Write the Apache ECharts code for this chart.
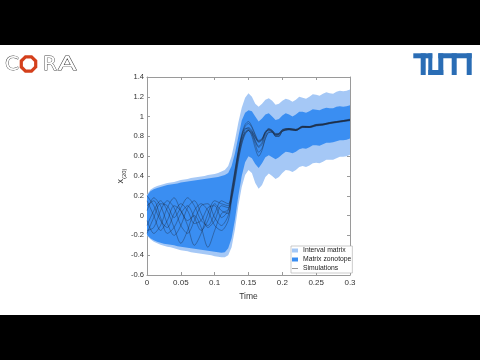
<!DOCTYPE html>
<html>
<head>
<meta charset="utf-8">
<style>
  html, body { margin: 0; padding: 0; background: #fff; }
  #main { width: 480px; height: 360px; }
</style>
<script src="https://cdn.jsdelivr.net/npm/echarts@6/dist/echarts.min.js"></script>
</head>
<body>
<div id="main"></div>
<script>
// reach-set bounds, sampled every 0.005 s
const bandT = [0, 0.005, 0.01, 0.015, 0.02, 0.025, 0.03, 0.035, 0.04, 0.045,
  0.05, 0.055, 0.06, 0.065, 0.07, 0.075, 0.08, 0.085, 0.09, 0.095,
  0.1, 0.105, 0.11, 0.115, 0.12, 0.125, 0.13, 0.135, 0.14, 0.145,
  0.15, 0.155, 0.16, 0.165, 0.17, 0.175, 0.18, 0.185, 0.19, 0.195,
  0.2, 0.205, 0.21, 0.215, 0.22, 0.225, 0.23, 0.235, 0.24, 0.245,
  0.25, 0.255, 0.26, 0.265, 0.27, 0.275, 0.28, 0.285, 0.29, 0.295, 0.3];

const intervalHigh = [0.21, 0.26, 0.285, 0.30, 0.31, 0.32, 0.33, 0.335, 0.34, 0.35,
  0.36, 0.365, 0.37, 0.38, 0.385, 0.39, 0.395, 0.40, 0.41, 0.415,
  0.42, 0.43, 0.445, 0.46, 0.50, 0.60, 0.76, 0.94, 1.09, 1.19,
  1.235, 1.20, 1.13, 1.10, 1.13, 1.17, 1.185, 1.16, 1.12, 1.13,
  1.16, 1.18, 1.17, 1.15, 1.17, 1.20, 1.19, 1.18, 1.20, 1.225,
  1.22, 1.21, 1.23, 1.245, 1.235, 1.23, 1.25, 1.26, 1.255, 1.26, 1.275];

const intervalLow = [-0.20, -0.24, -0.265, -0.28, -0.295, -0.305, -0.315, -0.32, -0.33, -0.34,
  -0.35, -0.355, -0.36, -0.37, -0.375, -0.38, -0.385, -0.39, -0.395, -0.40,
  -0.41, -0.415, -0.42, -0.42, -0.40, -0.32, -0.14, 0.10, 0.29, 0.41,
  0.46, 0.43, 0.33, 0.27, 0.31, 0.39, 0.425, 0.40, 0.37, 0.39,
  0.43, 0.46, 0.455, 0.44, 0.46, 0.49, 0.50, 0.49, 0.505, 0.53,
  0.535, 0.53, 0.545, 0.565, 0.565, 0.565, 0.58, 0.595, 0.595, 0.60, 0.615];

const zonoHigh = [0.20, 0.245, 0.265, 0.28, 0.29, 0.30, 0.31, 0.315, 0.32, 0.325,
  0.335, 0.34, 0.345, 0.35, 0.355, 0.36, 0.365, 0.37, 0.375, 0.38,
  0.385, 0.39, 0.40, 0.41, 0.43, 0.50, 0.63, 0.80, 0.96, 1.04,
  1.065, 1.055, 1.00, 0.95, 0.98, 1.02, 1.035, 1.00, 0.965, 0.975,
  1.01, 1.035, 1.02, 1.00, 1.02, 1.05, 1.05, 1.04, 1.055, 1.075,
  1.07, 1.065, 1.08, 1.09, 1.085, 1.085, 1.10, 1.105, 1.10, 1.105, 1.115];

const zonoLow = [-0.195, -0.23, -0.25, -0.265, -0.275, -0.285, -0.29, -0.295, -0.30, -0.31,
  -0.315, -0.32, -0.325, -0.33, -0.335, -0.34, -0.345, -0.35, -0.355, -0.36,
  -0.365, -0.37, -0.375, -0.37, -0.33, -0.23, -0.04, 0.20, 0.40, 0.54,
  0.60, 0.58, 0.52, 0.48, 0.53, 0.59, 0.61, 0.59, 0.57, 0.59,
  0.62, 0.645, 0.64, 0.63, 0.645, 0.67, 0.68, 0.675, 0.69, 0.71,
  0.71, 0.705, 0.72, 0.735, 0.735, 0.74, 0.75, 0.76, 0.76, 0.765, 0.78];

// simulation runs
const simT = [0, 0.01, 0.02, 0.03, 0.04, 0.05, 0.06, 0.07, 0.08, 0.09, 0.1, 0.11, 0.12,
  0.125, 0.13, 0.135, 0.14, 0.145, 0.15, 0.155, 0.16, 0.165, 0.17, 0.175, 0.18,
  0.185, 0.19, 0.195, 0.2, 0.21, 0.22, 0.23, 0.24, 0.25, 0.26, 0.27, 0.28, 0.29, 0.3];

const sim1 = [0.20, 0.10, -0.05, -0.12, 0.02, 0.12, 0.05, -0.08, -0.05, 0.08, 0.10, -0.02, 0.05,
  0.25, 0.45, 0.65, 0.82, 0.92, 0.95, 0.90, 0.82, 0.76, 0.78, 0.85, 0.88, 0.86, 0.83, 0.83, 0.87,
  0.88, 0.87, 0.905, 0.90, 0.92, 0.925, 0.94, 0.95, 0.96, 0.97];
const sim2 = [-0.15, -0.12, 0.05, 0.15, 0.08, -0.10, -0.18, -0.05, 0.10, 0.12, -0.02, -0.10, 0.00,
  0.18, 0.38, 0.60, 0.76, 0.85, 0.87, 0.84, 0.76, 0.70, 0.74, 0.83, 0.87, 0.86, 0.82, 0.82, 0.86,
  0.875, 0.865, 0.90, 0.895, 0.915, 0.92, 0.935, 0.945, 0.955, 0.965];
const sim3 = [0.05, 0.18, 0.10, -0.08, -0.20, -0.10, 0.08, 0.15, 0.02, -0.12, -0.05, 0.10, 0.08,
  0.22, 0.44, 0.64, 0.79, 0.87, 0.89, 0.86, 0.79, 0.74, 0.76, 0.84, 0.865, 0.85, 0.815, 0.82, 0.855,
  0.87, 0.86, 0.895, 0.89, 0.91, 0.915, 0.93, 0.94, 0.95, 0.96];
const sim4 = [-0.10, 0.05, 0.15, 0.05, -0.12, -0.28, -0.15, 0.05, 0.12, 0.05, -0.10, -0.15, -0.05,
  0.15, 0.34, 0.55, 0.72, 0.82, 0.86, 0.82, 0.72, 0.64, 0.68, 0.78, 0.84, 0.84, 0.80, 0.80, 0.85,
  0.87, 0.86, 0.89, 0.89, 0.91, 0.915, 0.93, 0.945, 0.955, 0.965];
const sim5 = [0.15, 0.00, -0.15, -0.05, 0.10, 0.05, -0.10, -0.30, -0.18, 0.02, 0.15, 0.12, 0.10,
  0.26, 0.46, 0.66, 0.81, 0.88, 0.88, 0.85, 0.79, 0.75, 0.77, 0.84, 0.865, 0.845, 0.815, 0.825, 0.865,
  0.88, 0.87, 0.90, 0.90, 0.92, 0.925, 0.94, 0.95, 0.96, 0.97];
const sim6 = [-0.05, -0.18, -0.10, 0.08, 0.18, 0.05, -0.05, 0.00, -0.12, -0.32, -0.15, 0.02, 0.06,
  0.17, 0.36, 0.57, 0.73, 0.83, 0.86, 0.83, 0.75, 0.69, 0.72, 0.81, 0.855, 0.85, 0.81, 0.81, 0.855,
  0.87, 0.86, 0.895, 0.895, 0.91, 0.92, 0.935, 0.945, 0.955, 0.965];
const sim7 = [0.10, 0.15, -0.02, -0.18, -0.12, 0.02, 0.10, -0.02, -0.15, -0.05, 0.12, 0.05, 0.02,
  0.21, 0.42, 0.63, 0.80, 0.90, 0.93, 0.89, 0.81, 0.75, 0.77, 0.845, 0.875, 0.86, 0.825, 0.83, 0.865,
  0.88, 0.87, 0.90, 0.90, 0.92, 0.925, 0.94, 0.95, 0.96, 0.975];
const sim8 = [-0.18, -0.02, 0.12, 0.10, -0.02, 0.08, 0.18, 0.10, -0.05, -0.10, 0.02, 0.15, 0.12,
  0.20, 0.40, 0.60, 0.76, 0.84, 0.86, 0.80, 0.68, 0.60, 0.66, 0.78, 0.84, 0.845, 0.80, 0.80, 0.85,
  0.865, 0.86, 0.89, 0.89, 0.905, 0.915, 0.93, 0.94, 0.95, 0.96];
const sims = [sim1, sim2, sim3, sim4, sim5, sim6, sim7, sim8];

const LIGHT = '#a5c8f6';
const DARK = '#3a8ef2';
const FONT = 'Liberation Sans';

const pairs = (t, v) => t.map((x, i) => [x, v[i]]);

const chart = echarts.init(document.getElementById('main'));

// band = upper edge forward, lower edge back, drawn through the axes
const bandSeries = (name, lo, hi, color) => ({
  name: name, type: 'custom', silent: true,
  itemStyle: { color: color },
  data: [[bandT[0], lo[0]]],
  encode: { x: 0, y: 1 },
  renderItem: (params, api) => {
    const pts = pairs(bandT, hi).concat(pairs(bandT, lo).reverse()).map(p => api.coord(p));
    return {
      type: 'polygon',
      shape: { points: pts },
      style: { fill: color, stroke: null }
    };
  }
});

const simSeries = sims.map(s => ({
  name: 'Simulations', type: 'line', data: pairs(simT, s),
  symbol: 'none', smooth: 0.3, silent: true,
  lineStyle: { color: '#1c2233', width: 0.5, opacity: 0.75 }
}));

// MATLAB style box
const axisLine = { onZero: false, lineStyle: { color: '#9a9a9a', width: 1 } };
const axisTick = { inside: true, length: 3, lineStyle: { color: '#9a9a9a' } };

// logo pieces
const octagon = [];
for (let k = 0; k < 8; k++) {
  const a = (22.5 + 45 * k) * Math.PI / 180;
  octagon.push([28.5 + 7.8 * Math.cos(a), 64 + 7.8 * Math.sin(a)]);
}
const tumBlue = '#2a6db5';
const tumRects = [
  [413.3, 53.3, 19, 5], [420.7, 53.3, 5, 21.7], [428.3, 53.3, 4, 21.7],
  [428.3, 70, 15, 5], [438.3, 53.3, 5, 21.7], [438.3, 53.3, 33.4, 5],
  [451.7, 53.3, 5, 21.7], [466.7, 53.3, 5, 21.7]
];
const letter = (ch, x, sx) => ({
  type: 'text', x: x, y: 64.5, scaleX: sx || 1,
  style: {
    text: ch, font: '20px "DejaVu Sans"', fill: '#fff',
    stroke: '#444', lineWidth: 0.9, verticalAlign: 'middle', align: 'left'
  }
});

const option = {
  animation: false,
  backgroundColor: '#fff',
  grid: { left: 147, right: 130, top: 77, bottom: 85 },
  legend: {
    left: 291, top: 246, orient: 'vertical',
    itemWidth: 6, itemHeight: 4, itemGap: 2,
    padding: [1, 1, 1, 1],
    borderColor: '#aaa', borderWidth: 0.6, backgroundColor: '#fff',
    textStyle: { fontSize: 6.8, color: '#222', fontFamily: FONT },
    data: [
      { name: 'Interval matrix', icon: 'rect', itemStyle: { color: LIGHT } },
      { name: 'Matrix zonotope', icon: 'rect', itemStyle: { color: DARK } },
      { name: 'Simulations', icon: 'path://M0,0L10,0L10,1L0,1Z', itemStyle: { color: '#555' } }
    ]
  },
  xAxis: [
    {
      type: 'value', min: 0, max: 0.3, interval: 0.05, position: 'bottom',
      axisLine: axisLine, axisTick: axisTick, splitLine: { show: false },
      axisLabel: { fontSize: 8, color: '#333', margin: 4, fontFamily: FONT },
      name: 'Time', nameLocation: 'middle', nameGap: 13,
      nameTextStyle: { fontSize: 8.5, color: '#333', fontFamily: FONT }
    },
    {
      type: 'value', min: 0, max: 0.3, interval: 0.05, position: 'top',
      axisLine: axisLine, axisTick: axisTick, splitLine: { show: false },
      axisLabel: { show: false }
    }
  ],
  yAxis: [
    {
      type: 'value', min: -0.6, max: 1.4, interval: 0.2, position: 'left',
      axisLine: axisLine, axisTick: axisTick, splitLine: { show: false },
      axisLabel: { fontSize: 7.6, color: '#333', margin: 3, fontFamily: FONT },
      name: '{x|x}{s|(20)}', nameLocation: 'middle', nameGap: 19, nameRotate: 90,
      nameTextStyle: {
        fontFamily: FONT, color: '#333',
        rich: {
          x: { fontSize: 9, lineHeight: 9, verticalAlign: 'top', fontFamily: FONT, color: '#333' },
          s: { fontSize: 6, lineHeight: 6, verticalAlign: 'top', padding: [5, 0, 0, 0], fontFamily: FONT, color: '#333' }
        }
      }
    },
    {
      type: 'value', min: -0.6, max: 1.4, interval: 0.2, position: 'right',
      axisLine: axisLine, axisTick: axisTick, splitLine: { show: false },
      axisLabel: { show: false }
    }
  ],
  graphic: [
    { type: 'rect', shape: { x: 0, y: 0, width: 480, height: 45 }, style: { fill: '#000' } },
    { type: 'rect', shape: { x: 0, y: 315, width: 480, height: 45 }, style: { fill: '#000' } },
    letter('C', 5),
    { type: 'polygon', shape: { points: octagon }, style: { fill: 'none', stroke: '#d4401c', lineWidth: 3.2 } },
    letter('R', 43),
    letter('A', 58, 1.35)
  ].concat(tumRects.map(r => ({
    type: 'rect', shape: { x: r[0], y: r[1], width: r[2], height: r[3] }, style: { fill: tumBlue }
  }))),
  series: [
    bandSeries('Interval matrix', intervalLow, intervalHigh, LIGHT),
    bandSeries('Matrix zonotope', zonoLow, zonoHigh, DARK),
    ...simSeries
  ]
};

chart.setOption(option);
</script>
</body>
</html>
